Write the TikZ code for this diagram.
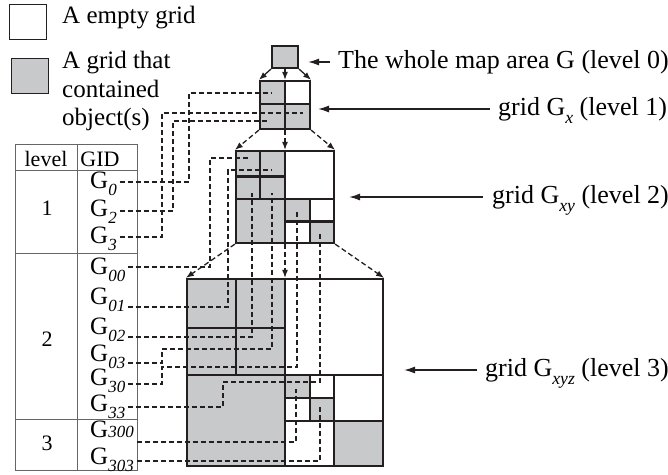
\documentclass[tikz,border=0pt]{standalone}
\usepackage{fontspec}
\usepackage{graphicx}
\setmainfont{Liberation Serif}
\usetikzlibrary{arrows.meta}
\definecolor{gridline}{RGB}{35,31,32}
\definecolor{objfill}{RGB}{200,201,203}
% lowered italic subscript, kept out of the node height
\newcommand{\lsub}[2][-0.28em]{\smash{\raisebox{#1}{\scalebox{0.68}{\itshape #2}}}}

\begin{document}
\begin{tikzpicture}[x=1pt, y=-1pt, >={Latex[length=11pt,width=7pt]},
    full/.style={fill=objfill},
    cell/.style={draw=gridline, line width=2.2pt},
    level/.style={draw=gridline, line width=2.2pt, inner sep=0pt},
    link/.style={draw=gridline, line width=1.3pt, dash pattern=on 5pt off 3pt},
    drop/.style={->, >={Latex[length=8pt,width=6pt]}},
    pointer/.style={draw=gridline, line width=1.2pt, ->},
    tbl/.style={draw=black!60, line width=0.8pt},
    gidlbl/.style={anchor=west, inner xsep=3pt, inner ysep=0pt, font=\fontsize{25}{25}\selectfont},
    lvltxt/.style={anchor=west, inner sep=0pt, font=\fontsize{26}{26}\selectfont},
    tbltxt/.style={anchor=base, inner sep=0pt, font=\fontsize{22}{22}\selectfont}]
    \useasboundingbox (0,0) rectangle (668,474);

    % legend
    \node[draw=gridline, line width=1pt, minimum width=37pt, minimum height=35pt, inner sep=0pt] (kEmpty) at (27.5,21.5) {};
    \node[draw=gridline, line width=1pt, full, minimum width=37pt, minimum height=35pt, inner sep=0pt] (kFull) at (29.5,75.5) {};
    \node[anchor=base west, inner sep=0pt, font=\fontsize{25}{28.5}\selectfont] (tEmpty) at (62,23) {A empty grid};
    \node[anchor=north west, inner sep=0pt, align=left, font=\fontsize{25}{28.5}\selectfont] (tFull) at (62,51) {A grid that\\contained\\object(s)};

    % grid cells holding objects
    \fill[full] (260,81) rectangle (285,129) (285,104) rectangle (310,129);
    \fill[full] (236,151) rectangle (285,243) (285,199) rectangle (310,221.5) (310,221.5) rectangle (334,243);
    \fill[full] (187,279) rectangle (285,466) (285,375) rectangle (310,398) (310,398) rectangle (334,421)
        (334,421) rectangle (383,466);

    % inner grid lines
    \draw[cell] (285,81) -- (285,129) (260,104) -- (310,104);
    \draw[cell] (285,151) -- (285,243) (236,199) -- (334,199) (260,151) -- (260,199) (236,176.5) -- (285,176.5)
        (310,199) -- (310,243) (285,221.5) -- (334,221.5);
    \draw[cell] (285,279) -- (285,466) (187,375) -- (383,375) (236,279) -- (236,375) (187,328) -- (285,328)
        (334,375) -- (334,466) (285,421) -- (383,421) (310,375) -- (310,421) (285,398) -- (334,398);

    % levels 0 to 3
    \node[level, full, minimum width=26pt, minimum height=22pt] (L0) at (285,57) {};
    \node[level, minimum width=50pt, minimum height=48pt] (L1) at (285,105) {};
    \node[level, minimum width=98pt, minimum height=92pt] (L2) at (285,197) {};
    \node[level, minimum width=196pt, minimum height=187pt] (L3) at (285,372.5) {};

    \draw[pointer, drop, line width=1.3pt] (L0.south west) -- (L1.north west);
    \draw[pointer, drop, line width=1.3pt] (L0.south) -- (L1.north);
    \draw[pointer, drop, line width=1.3pt] (L0.south east) -- (L1.north east);
    \draw[link, drop] (L1.south west) -- (L2.north west); \draw[link, drop] (L1.south) -- (L2.north);
    \draw[link, drop] (L1.south east) -- (L2.north east);
    \draw[link, drop] (L2.south west) -- (L3.north west); \draw[link, drop] (L2.south) -- (L3.north);
    \draw[link, drop] (L2.south east) -- (L3.north east);

    % level captions
    \node[lvltxt] (t0) at (338,62) {The whole map area G (level 0)};
    \node[lvltxt] (t1) at (498,109) {grid G\lsub[-0.3em]{x} (level 1)};
    \node[lvltxt] (t2) at (492,197) {grid G\lsub[-0.3em]{xy} (level 2)};
    \node[lvltxt] (t3) at (485,370) {grid G\lsub[-0.3em]{xyz} (level 3)};
    \draw[pointer, shorten <=8pt, shorten >=9pt] (t0.west) -- (t0.west -| L0.east);
    \draw[pointer, shorten <=8pt, shorten >=7pt] (t1.west) -- (t1.west -| L1.east);
    \draw[pointer, shorten <=9pt, shorten >=14pt] (t2.west) -- (t2.west -| L2.east);
    \draw[pointer, shorten <=8pt, shorten >=20pt] (t3.west) -- (t3.west -| L3.east);

    % table of grid ids
    \draw[tbl] (15,144) rectangle (137,470) (77,144) -- (77,470);
    \draw[tbl] (15,170) -- (137,170) (15,253) -- (137,253) (15,419) -- (137,419);
    \node[tbltxt] (hLevel) at (46,166) {level}; \node[tbltxt] (hGid) at (100,166) {GID};
    \node[tbltxt] (n1) at (47,215) {1}; \node[tbltxt] (n2) at (47,346) {2}; \node[tbltxt] (n3) at (47,450) {3};
    \foreach \n/\y in {0/180.5, 2/208.5, 3/235, 00/266.5, 01/296, 02/326.5, 03/353, 30/377, 33/403, 303/456}
        \node[gidlbl] (g\n) at (87,\y) {G\lsub{\n}};
    \node[gidlbl] (g300) at (87,429) {G\lsub[0pt]{300}};

    % targets inside the cells
    \coordinate (c0) at (272,93); \coordinate (c2) at (269,121); \coordinate (c3) at (303,113);
    \coordinate (c00) at (248,158); \coordinate (c01) at (272,170); \coordinate (c02) at (252,193);
    \coordinate (c03) at (272,193); \coordinate (c30) at (297,211); \coordinate (c33) at (320,233);
    \coordinate (c300) at (296,389); \coordinate (c303) at (320,407);

    % id to cell links
    \draw[link] ([yshift=-1.5pt]g0.east) -| (189,93) -- (c0);
    \draw[link] ([yshift=-2.5pt]g2.east) -| (173,121) -- (c2);
    \draw[link] ([yshift=-2pt]g3.east) -| (162,113) -- (c3);
    \draw[link] ([yshift=-0.5pt]g00.east) -| (210,158) -- (c00);
    \draw[link] ([yshift=-11pt]g01.east) -| (228,170) -- (c01);
    \draw[link] ([yshift=-10.5pt]g02.east) -| (c02);
    \draw[link] ([yshift=-10pt]g03.east) -| (162,349) -| (c03);
    \draw[link] ([yshift=-7pt]g30.east) -| (162,367) -| (c30);
    \draw[link] ([yshift=-4pt]g33.east) -| (223,382) -| (c33);
    \draw[link] ([yshift=-13pt]g300.east) -| (c300);
    \draw[link] ([yshift=-5pt]g303.east) -| (c303);
\end{tikzpicture}
\end{document}
